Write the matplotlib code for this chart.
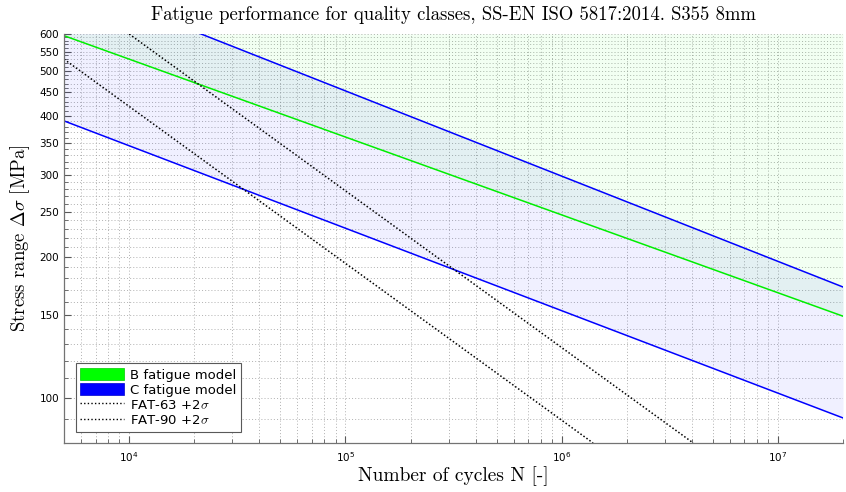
import matplotlib.pyplot as plt
import numpy as np
from matplotlib.patches import Patch
from matplotlib.lines import Line2D
from matplotlib.ticker import FixedLocator, FixedFormatter, NullFormatter

# values (cycles N, stress range in MPa)
n_ends = [5e3, 2e7]
b_lower = [595, 149.4]          # B fatigue model, green line
c_lower = [391, 90.5]           # C fatigue model, lower blue line
c_upper = [783, 172.5]          # C fatigue model, upper blue line (leaves top at ~2.15e4)

n_fat63 = [5e3, 1.397e6]
s_fat63 = [530, 80]
n_fat90 = [1e4, 4.06e6]
s_fat90 = [600, 80]

y_ticks = [100, 150, 200, 250, 300, 350, 400, 450, 500, 550, 600]
y_tick_labels = ['100', '150', '200', '250', '300', '350', '400', '450', '500', '550', '600']
y_minor = list(range(80, 601, 10))
x_lim = (5e3, 2e7)
y_lim = (80, 600)

plt.rcParams['mathtext.fontset'] = 'cm'
serif = ['cmr10', 'DejaVu Serif']

fig = plt.figure(figsize=(8.46, 4.92), dpi=100)
ax = fig.add_axes([0.0757, 0.0996, 0.9208, 0.8313])
ax.set_xscale('log')
ax.set_yscale('log')

# shaded bands
ax.fill_between(n_ends, b_lower, y_lim[1], color='#00ff00', alpha=0.05, lw=0)
ax.fill_between(n_ends, c_lower, c_upper, color='#0000ff', alpha=0.06, lw=0)

ax.plot(n_ends, b_lower, color='#00ee00', lw=1.1)
ax.plot(n_ends, c_lower, color='#0000ff', lw=1.1)
ax.plot(n_ends, c_upper, color='#0000ff', lw=1.1)
ax.plot(n_fat63, s_fat63, color='k', lw=1.1, ls=(0, (1, 1.4)))
ax.plot(n_fat90, s_fat90, color='k', lw=1.1, ls=(0, (1, 1.4)))

ax.set_xlim(*x_lim)
ax.set_ylim(*y_lim)

ax.yaxis.set_major_locator(FixedLocator(y_ticks))
ax.yaxis.set_major_formatter(FixedFormatter(y_tick_labels))
ax.yaxis.set_minor_locator(FixedLocator(y_minor))
ax.yaxis.set_minor_formatter(NullFormatter())

ax.tick_params(which='both', direction='in', labelsize=7.5, colors='0.35', labelcolor='k')
ax.tick_params(which='major', length=5, width=0.8)
ax.tick_params(which='minor', length=3, width=0.6)
ax.tick_params(axis='x', pad=5)

ax.grid(True, which='both', ls=(0, (1.5, 3)), color='0.6', lw=0.5)
ax.set_axisbelow(True)

for side in ['top', 'right']:
    ax.spines[side].set_visible(False)
for side in ['left', 'bottom']:
    ax.spines[side].set_color('0.45')
    ax.spines[side].set_linewidth(0.9)

ax.set_title('Fatigue performance for quality classes, SS-EN ISO 5817:2014. S355 8mm',
             family=serif, fontsize=13.5, pad=10)
ax.set_xlabel('Number of cycles N [-]', family=serif, fontsize=14, labelpad=2)
ax.set_ylabel(r'Stress range $\Delta\sigma$ [MPa]', family=serif, fontsize=13.5, labelpad=5)

handles = [
    Patch(facecolor='#00ff00', edgecolor='#00cc00', lw=0.5),
    Patch(facecolor='#0000ff', edgecolor='#0000cc', lw=0.5),
    Line2D([], [], color='k', lw=1.0, ls=(0, (1, 1.6))),
    Line2D([], [], color='k', lw=1.0, ls=(0, (1, 1.6))),
]
labels = ['B fatigue model', 'C fatigue model', r'FAT-63 +2$\sigma$', r'FAT-90 +2$\sigma$']
leg = ax.legend(handles, labels, loc='lower left', bbox_to_anchor=(0.015, 0.028),
                fontsize=9.5, fancybox=False, framealpha=1, edgecolor='0.35',
                handlelength=3.3, handleheight=1.1, labelspacing=0.1,
                borderpad=0.35, handletextpad=0.5, borderaxespad=0)
leg.get_frame().set_linewidth(0.8)

fig.savefig('out.png', dpi=100)
